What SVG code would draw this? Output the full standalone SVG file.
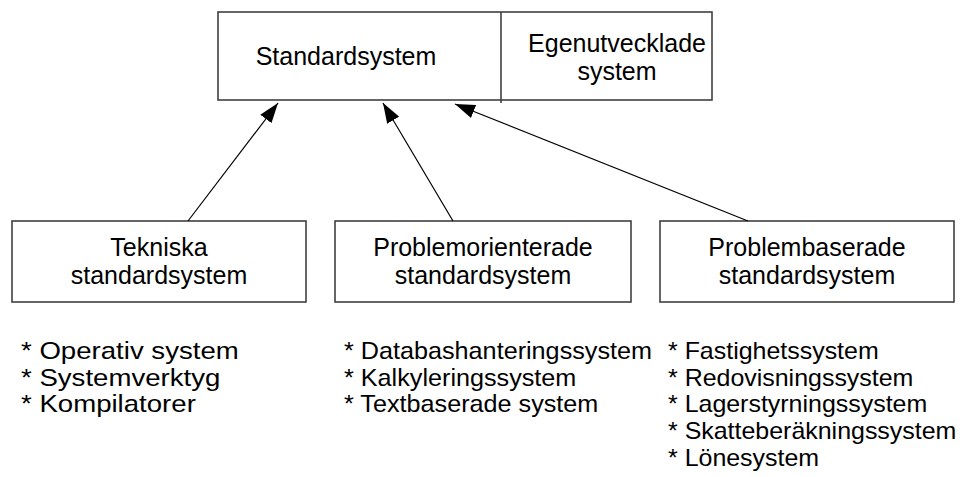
<svg xmlns="http://www.w3.org/2000/svg" width="960" height="477" viewBox="0 0 960 477">
  <style>
    .box { fill: #ffffff; stroke: #404040; stroke-width: 1.6; }
    .lbl { font-family: "Liberation Sans", Arial, sans-serif; font-size: 25px; fill: #000000; text-anchor: middle; }
    .lst { font-family: "Liberation Sans", Arial, sans-serif; font-size: 24px; fill: #000000; }
    .conn { stroke: #000000; stroke-width: 1.2; fill: none; marker-end: url(#head); }
  </style>
  <defs>
    <marker id="head" viewBox="0 0 20 14" refX="20" refY="7" markerWidth="20" markerHeight="14" markerUnits="userSpaceOnUse" orient="auto">
      <path d="M0,0 L20,7 L0,14 Z" fill="#000000"/>
    </marker>
  </defs>
  <rect width="960" height="477" fill="#ffffff"/>

  <g id="top">
    <rect class="box" x="218" y="12" width="494" height="88"/>
    <line x1="501" y1="12" x2="501" y2="103" stroke="#404040" stroke-width="1.6"/>
    <text class="lbl" x="346" y="65">Standardsystem</text>
    <text class="lbl" x="617" y="52">Egenutvecklade</text>
    <text class="lbl" x="617" y="80">system</text>
  </g>

  <g id="tekniska">
    <rect class="box" x="12" y="221" width="294" height="81"/>
    <text class="lbl" x="159" y="256">Tekniska</text>
    <text class="lbl" x="159" y="284">standardsystem</text>
  </g>

  <g id="problemorienterade">
    <rect class="box" x="335" y="221" width="296" height="81"/>
    <text class="lbl" x="483" y="256">Problemorienterade</text>
    <text class="lbl" x="483" y="284">standardsystem</text>
  </g>

  <g id="problembaserade">
    <rect class="box" x="660" y="221" width="294" height="81"/>
    <text class="lbl" x="807" y="256">Problembaserade</text>
    <text class="lbl" x="807" y="284">standardsystem</text>
  </g>

  <g id="connectors">
    <line class="conn" x1="188" y1="221" x2="278" y2="103"/>
    <line class="conn" x1="453" y1="221" x2="383" y2="103"/>
    <line class="conn" x1="748" y1="221" x2="455" y2="104"/>
  </g>

  <!-- examples listed under each category, in three columns -->
  <g id="list-tekniska" transform="translate(21,0) scale(1.15,1) translate(-21,0)">
    <text class="lst" x="21" y="359">* Operativ system</text>
    <text class="lst" x="21" y="386">* Systemverktyg</text>
    <text class="lst" x="21" y="412">* Kompilatorer</text>
  </g>
  <g id="list-problemorienterade" transform="translate(344,0) scale(1.05,1) translate(-344,0)">
    <text class="lst" x="344" y="359">* Databashanteringssystem</text>
    <text class="lst" x="344" y="386">* Kalkyleringssystem</text>
    <text class="lst" x="344" y="412">* Textbaserade system</text>
  </g>
  <g id="list-problembaserade" transform="translate(668,0) scale(1.04,1) translate(-668,0)">
    <text class="lst" x="668" y="359">* Fastighetssystem</text>
    <text class="lst" x="668" y="386">* Redovisningssystem</text>
    <text class="lst" x="668" y="412">* Lagerstyrningssystem</text>
    <text class="lst" x="668" y="439">* Skatteberäkningssystem</text>
    <text class="lst" x="668" y="466">* Lönesystem</text>
  </g>
</svg>
